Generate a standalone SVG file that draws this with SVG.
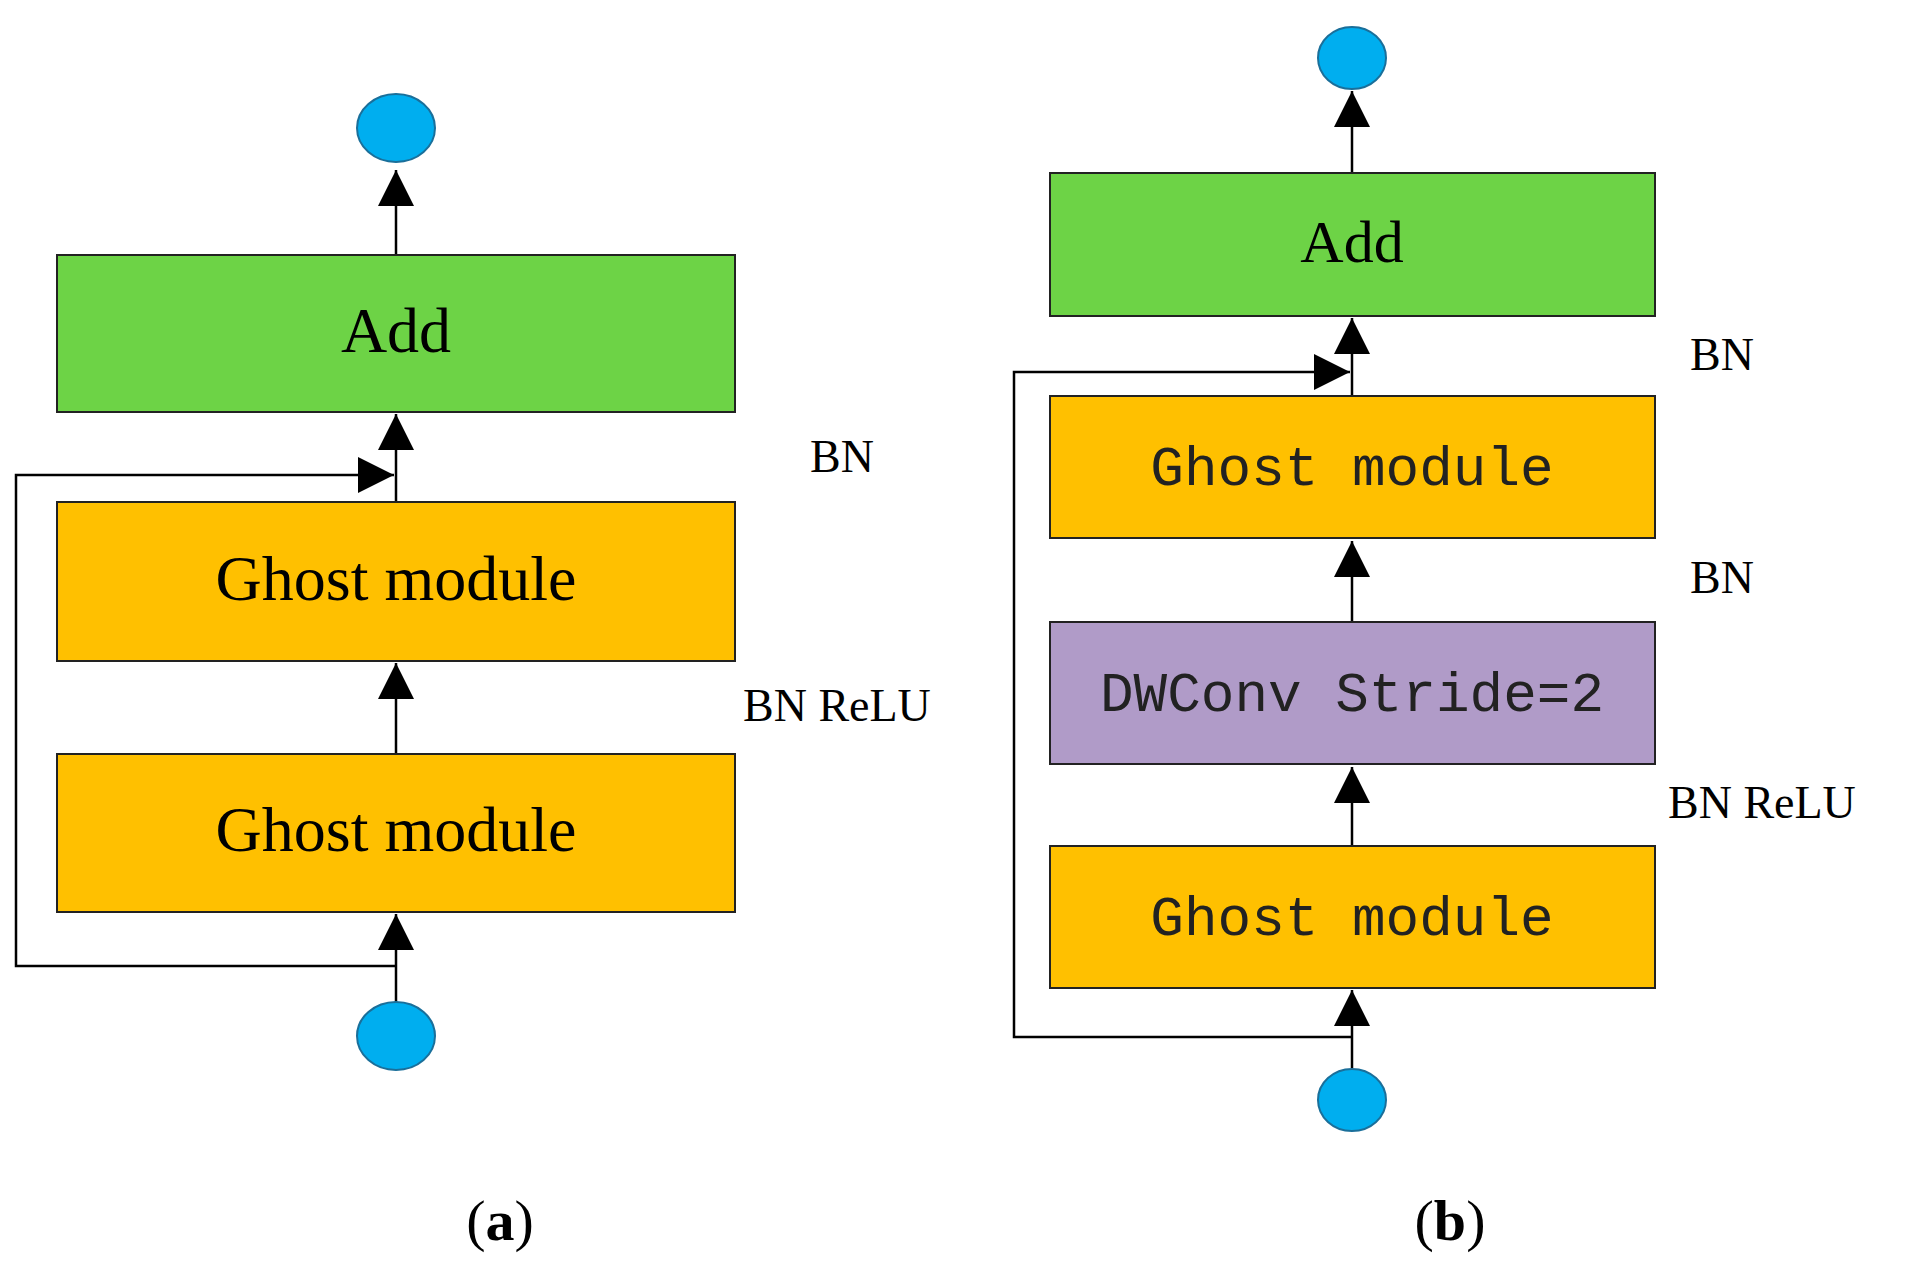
<svg xmlns="http://www.w3.org/2000/svg" width="1906" height="1279" viewBox="0 0 1906 1279">
<style>
.box{stroke:#222;stroke-width:2}
.add{fill:#6dd346}.gh{fill:#ffc000}.dw{fill:#b09bc8}
.c{fill:#00aeef;stroke:#1a6f9a;stroke-width:2}
.ln{stroke:#000;stroke-width:2.5;fill:none}
.s{font-family:"Liberation Serif",serif;fill:#000;text-anchor:middle}
.m{font-family:"Liberation Mono",monospace;fill:#222;text-anchor:middle;font-size:56px}
.lb{font-family:"Liberation Serif",serif;font-size:46px;fill:#000}
</style>
<defs><marker id="ar" markerUnits="userSpaceOnUse" markerWidth="40" markerHeight="36" refX="36" refY="18" orient="auto"><path d="M0,0L36,18L0,36z" fill="#000"/></marker></defs>
<g id="connectors">
<line class="ln" x1="396" y1="255" x2="396" y2="170" marker-end="url(#ar)"/>
<line class="ln" x1="396" y1="502" x2="396" y2="414" marker-end="url(#ar)"/>
<line class="ln" x1="396" y1="754" x2="396" y2="663" marker-end="url(#ar)"/>
<line class="ln" x1="396" y1="1002" x2="396" y2="914" marker-end="url(#ar)"/>
<polyline class="ln" points="396,966 16,966 16,475 394,475" marker-end="url(#ar)"/>
<line class="ln" x1="1352" y1="173" x2="1352" y2="91" marker-end="url(#ar)"/>
<line class="ln" x1="1352" y1="396" x2="1352" y2="318" marker-end="url(#ar)"/>
<line class="ln" x1="1352" y1="622" x2="1352" y2="541" marker-end="url(#ar)"/>
<line class="ln" x1="1352" y1="846" x2="1352" y2="767" marker-end="url(#ar)"/>
<line class="ln" x1="1352" y1="1068" x2="1352" y2="990" marker-end="url(#ar)"/>
<polyline class="ln" points="1352,1037 1014,1037 1014,372 1350,372" marker-end="url(#ar)"/>
</g>
<g id="a-out"><ellipse class="c" cx="396" cy="128" rx="39" ry="34"/></g>
<g id="a-add"><rect class="box add" x="57" y="255" width="678" height="157"/><text class="s" x="396" y="352" font-size="64">Add</text></g>
<g id="a-gm1"><rect class="box gh" x="57" y="502" width="678" height="159"/><text class="s" x="396" y="600" font-size="64">Ghost module</text></g>
<g id="a-gm2"><rect class="box gh" x="57" y="754" width="678" height="158"/><text class="s" x="396" y="851" font-size="64">Ghost module</text></g>
<g id="a-in"><ellipse class="c" cx="396" cy="1036" rx="39" ry="34"/></g>
<text class="lb" x="810" y="472">BN</text>
<text class="lb" x="743" y="721">BN ReLU</text>
<text class="s" x="500" y="1240" font-size="58">(<tspan font-weight="bold">a</tspan>)</text>
<g id="b-out"><ellipse class="c" cx="1352" cy="58" rx="34" ry="31"/></g>
<g id="b-add"><rect class="box add" x="1050" y="173" width="605" height="143"/><text class="s" x="1352" y="262" font-size="60">Add</text></g>
<g id="b-gm1"><rect class="box gh" x="1050" y="396" width="605" height="142"/><text class="m" x="1352" y="485">Ghost  module</text></g>
<g id="b-dw"><rect class="box dw" x="1050" y="622" width="605" height="142"/><text class="m" x="1352" y="711">DWConv  Stride=2</text></g>
<g id="b-gm2"><rect class="box gh" x="1050" y="846" width="605" height="142"/><text class="m" x="1352" y="935">Ghost  module</text></g>
<g id="b-in"><ellipse class="c" cx="1352" cy="1100" rx="34" ry="31"/></g>
<text class="lb" x="1690" y="370">BN</text>
<text class="lb" x="1690" y="593">BN</text>
<text class="lb" x="1668" y="818">BN ReLU</text>
<text class="s" x="1450" y="1240" font-size="58">(<tspan font-weight="bold">b</tspan>)</text>
</svg>
